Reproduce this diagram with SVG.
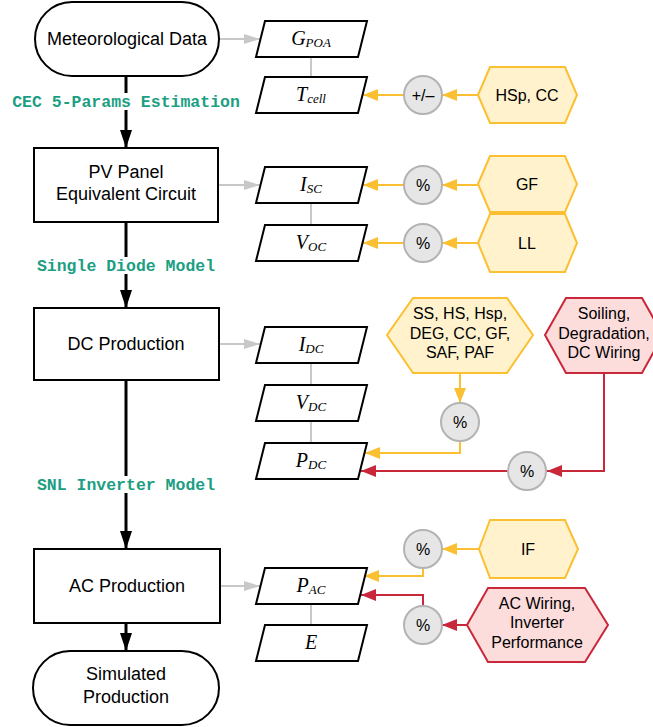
<svg xmlns="http://www.w3.org/2000/svg" width="653" height="727" viewBox="0 0 653 727">
<style>
.node{fill:#fff;stroke:#000;stroke-width:2}
.para{fill:#fff;stroke:#000;stroke-width:2}
.t{font-family:"Liberation Sans",Arial,sans-serif;font-size:18px;fill:#000;text-anchor:middle}
.ts{font-family:"Liberation Sans",Arial,sans-serif;font-size:16px;fill:#000;text-anchor:middle}
.m{font-family:"Liberation Serif","Times New Roman",serif;font-style:italic;font-size:20px;fill:#000;text-anchor:middle}
.sub{font-size:13px}
.lab{font-family:"Liberation Mono","Courier New",monospace;font-weight:bold;font-size:16.5px;fill:#1b9e82;text-anchor:middle}
.hy{fill:#fff2cc;stroke:#fbbf32;stroke-width:2}
.hr{fill:#fddcdc;stroke:#c9283a;stroke-width:2}
.circ{fill:#e6e6e6;stroke:#b3b3b3;stroke-width:2}
.cb{fill:none;stroke:#000;stroke-width:3}
.cg{fill:none;stroke:#c8c8c8;stroke-width:2}
.cy{fill:none;stroke:#fbbf32;stroke-width:2}
.cr{fill:none;stroke:#c9283a;stroke-width:2}
</style>
<defs>
<marker id="ab" markerUnits="userSpaceOnUse" markerWidth="18" markerHeight="12" refX="18" refY="6" orient="auto"><path d="M0,0 L18,6 L0,12 z" fill="#000"/></marker>
<marker id="ag" markerUnits="userSpaceOnUse" markerWidth="16" markerHeight="10" refX="16" refY="5" orient="auto"><path d="M0,0 L16,5 L0,10 z" fill="#c8c8c8"/></marker>
<marker id="ay" markerUnits="userSpaceOnUse" markerWidth="15" markerHeight="12" refX="15" refY="6" orient="auto"><path d="M0,0 L15,6 L0,12 z" fill="#fbbf32"/></marker>
<marker id="ar" markerUnits="userSpaceOnUse" markerWidth="15" markerHeight="12" refX="15" refY="6" orient="auto"><path d="M0,0 L15,6 L0,12 z" fill="#c9283a"/></marker>
</defs>
<g id="connectors">
<path class="cb" d="M126,77 V148" marker-end="url(#ab)"/>
<path class="cb" d="M126,222 V308" marker-end="url(#ab)"/>
<path class="cb" d="M126,380 V549" marker-end="url(#ab)"/>
<path class="cb" d="M126,623 V651" marker-end="url(#ab)"/>
<path class="cg" d="M219,39 H260" marker-end="url(#ag)"/>
<path class="cg" d="M218,185 H260" marker-end="url(#ag)"/>
<path class="cg" d="M219,344 H260" marker-end="url(#ag)"/>
<path class="cg" d="M220,586 H260" marker-end="url(#ag)"/>
<path class="cg" d="M311,57 V77 M311,203 V225 M311,363 V385 M311,421 V443 M311,604 V625"/>
<path class="cy" d="M478,95 H442" marker-end="url(#ay)"/>
<path class="cy" d="M404,95 H363" marker-end="url(#ay)"/>
<path class="cy" d="M478,185 H442" marker-end="url(#ay)"/>
<path class="cy" d="M404,185 H363" marker-end="url(#ay)"/>
<path class="cy" d="M478,243 H442" marker-end="url(#ay)"/>
<path class="cy" d="M404,243 H363" marker-end="url(#ay)"/>
<path class="cy" d="M460,373 V403" marker-end="url(#ay)"/>
<path class="cy" d="M460,441 V453 H365" marker-end="url(#ay)"/>
<path class="cr" d="M604,373 V471 H547" marker-end="url(#ar)"/>
<path class="cr" d="M508,471 H361" marker-end="url(#ar)"/>
<path class="cy" d="M479,549 H442" marker-end="url(#ay)"/>
<path class="cy" d="M423,568 V576 H364" marker-end="url(#ay)"/>
<path class="cr" d="M467,625 H442" marker-end="url(#ar)"/>
<path class="cr" d="M423,606 V595 H361" marker-end="url(#ar)"/>
</g>
<g id="label-cec"><rect x="10" y="93" width="232" height="17" fill="#fff"/><text class="lab" x="126" y="107">CEC 5-Params Estimation</text></g>
<g id="label-sdm"><rect x="34" y="257" width="184" height="17" fill="#fff"/><text class="lab" x="126" y="271">Single Diode Model</text></g>
<g id="label-snl"><rect x="34" y="476" width="184" height="17" fill="#fff"/><text class="lab" x="126" y="490">SNL Inverter Model</text></g>
<g id="meteo"><rect class="node" x="35" y="2" width="184" height="74" rx="37"/><text class="t" x="127" y="45">Meteorological Data</text></g>
<g id="pv"><rect class="node" x="34" y="148" width="184" height="74"/><text class="t" x="126" y="178">PV Panel</text><text class="t" x="126" y="200">Equivalent Circuit</text></g>
<g id="dc"><rect class="node" x="34" y="308" width="185" height="72"/><text class="t" x="126" y="350">DC Production</text></g>
<g id="ac"><rect class="node" x="34" y="549" width="186" height="74"/><text class="t" x="127" y="592">AC Production</text></g>
<g id="sim"><rect class="node" x="33" y="651" width="186" height="74" rx="37"/><text class="t" x="126" y="680">Simulated</text><text class="t" x="126" y="703">Production</text></g>
<g id="gpoa"><path class="para" d="M265,21 H367 L358,57 H256 Z"/><text class="m" x="311" y="45">G<tspan class="sub" dy="2">POA</tspan></text></g>
<g id="tcell"><path class="para" d="M265,77 H367 L358,113 H256 Z"/><text class="m" x="311" y="101">T<tspan class="sub" dy="2">cell</tspan></text></g>
<g id="isc"><path class="para" d="M265,167 H367 L358,203 H256 Z"/><text class="m" x="311" y="191">I<tspan class="sub" dy="2">SC</tspan></text></g>
<g id="voc"><path class="para" d="M265,225 H367 L358,261 H256 Z"/><text class="m" x="311" y="249">V<tspan class="sub" dy="2">OC</tspan></text></g>
<g id="idc"><path class="para" d="M265,327 H367 L358,363 H256 Z"/><text class="m" x="311" y="351">I<tspan class="sub" dy="2">DC</tspan></text></g>
<g id="vdc"><path class="para" d="M265,385 H367 L358,421 H256 Z"/><text class="m" x="311" y="409">V<tspan class="sub" dy="2">DC</tspan></text></g>
<g id="pdc"><path class="para" d="M265,443 H367 L358,479 H256 Z"/><text class="m" x="311" y="467">P<tspan class="sub" dy="2">DC</tspan></text></g>
<g id="pac"><path class="para" d="M265,568 H367 L358,604 H256 Z"/><text class="m" x="311" y="592">P<tspan class="sub" dy="2">AC</tspan></text></g>
<g id="e"><path class="para" d="M265,625 H367 L358,661 H256 Z"/><text class="m" x="311" y="649">E</text></g>
<g id="c1"><circle class="circ" cx="423" cy="95" r="19"/><text class="ts" x="423" y="101">+/–</text></g>
<g id="c2"><circle class="circ" cx="423" cy="185" r="19"/><text class="ts" x="423" y="191">%</text></g>
<g id="c3"><circle class="circ" cx="423" cy="243" r="19"/><text class="ts" x="423" y="249">%</text></g>
<g id="c4"><circle class="circ" cx="460" cy="422" r="19"/><text class="ts" x="460" y="428">%</text></g>
<g id="c5"><circle class="circ" cx="527" cy="471" r="19"/><text class="ts" x="527" y="477">%</text></g>
<g id="c6"><circle class="circ" cx="423" cy="549" r="19"/><text class="ts" x="423" y="555">%</text></g>
<g id="c7"><circle class="circ" cx="423" cy="625" r="19"/><text class="ts" x="423" y="631">%</text></g>
<g id="h-hsp"><path class="hy" d="M478,95 L490,67 H565 L577,95 L565,123 H490 Z"/><text class="ts" x="527" y="101">HSp, CC</text></g>
<g id="h-gf"><path class="hy" d="M478,184 L490,156 H565 L577,184 L565,212 H490 Z"/><text class="ts" x="527" y="190">GF</text></g>
<g id="h-ll"><path class="hy" d="M478,243 L490,214 H565 L577,243 L565,272 H490 Z"/><text class="ts" x="527" y="249">LL</text></g>
<g id="h-dcy"><path class="hy" d="M387,335 L413,298 H507 L533,335 L507,373 H413 Z"/><text class="ts" x="460" y="319">SS, HS, Hsp,</text><text class="ts" x="460" y="339">DEG, CC, GF,</text><text class="ts" x="460" y="358">SAF, PAF</text></g>
<g id="h-dcr"><path class="hr" d="M545,335 L566,298 H642 L663,335 L642,373 H566 Z"/><text class="ts" x="604" y="319">Soiling,</text><text class="ts" x="604" y="339">Degradation,</text><text class="ts" x="604" y="358">DC Wiring</text></g>
<g id="h-if"><path class="hy" d="M479,549 L490,520 H565 L578,549 L565,578 H490 Z"/><text class="ts" x="528" y="555">IF</text></g>
<g id="h-acr"><path class="hr" d="M467,625 L488,588 H585 L608,625 L585,662 H488 Z"/><text class="ts" x="537" y="609">AC Wiring,</text><text class="ts" x="537" y="628">Inverter</text><text class="ts" x="537" y="648">Performance</text></g>
</svg>
